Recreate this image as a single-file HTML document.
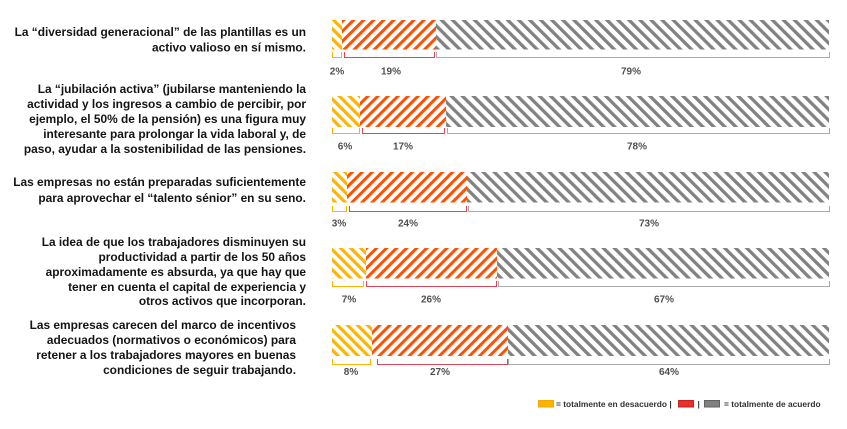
<!DOCTYPE html>
<html>
<head>
<meta charset="utf-8">
<style>
  html, body { margin: 0; padding: 0; background: #ffffff; }
  body { width: 847px; height: 429px; overflow: hidden; }
  svg { display: block; }
  .q { font-family: "Liberation Sans", Arial, sans-serif; font-weight: bold; font-size: 11.9px; fill: #141414; }
  .p { font-family: "Liberation Sans", Arial, sans-serif; font-weight: bold; font-size: 10px; fill: #505050; }
  .lg { font-family: "Liberation Sans", Arial, sans-serif; font-weight: bold; font-size: 8.4px; fill: #333333; }
</style>
</head>
<body>
<svg width="847" height="429" viewBox="0 0 847 429" xmlns="http://www.w3.org/2000/svg">
  <defs>
    <pattern id="hy" patternUnits="userSpaceOnUse" width="7.1" height="7.1" patternTransform="rotate(-45)">
      <rect x="0" y="0" width="7.1" height="7.1" fill="#ffffff"/>
      <rect x="0" y="0" width="3.2" height="7.1" fill="#ffb400"/>
    </pattern>
    <pattern id="ho" patternUnits="userSpaceOnUse" width="7.1" height="7.1" patternTransform="rotate(45)">
      <rect x="0" y="0" width="7.1" height="7.1" fill="#ffffff"/>
      <rect x="0" y="0" width="3.0" height="7.1" fill="#ff4f00"/>
    </pattern>
    <pattern id="hg" patternUnits="userSpaceOnUse" width="7.8" height="7.8" patternTransform="rotate(-45)">
      <rect x="0" y="0" width="7.8" height="7.8" fill="#ffffff"/>
      <rect x="0" y="0" width="3.3" height="7.8" fill="#828282"/>
    </pattern>
  </defs>

  <!-- Left question texts -->
  <g class="q" text-anchor="end">
    <text x="306" y="36">La “diversidad generacional” de las plantillas es un</text>
    <text x="306" y="51.5">activo valioso en sí mismo.</text>

    <text x="306" y="93">La “jubilación activa” (jubilarse manteniendo la</text>
    <text x="306" y="108">actividad y los ingresos a cambio de percibir, por</text>
    <text x="306" y="123">ejemplo, el 50% de la pensión) es una figura muy</text>
    <text x="306" y="138">interesante para prolongar la vida laboral y, de</text>
    <text x="306" y="153">paso, ayudar a la sostenibilidad de las pensiones.</text>

    <text x="306" y="186">Las empresas no están preparadas suficientemente</text>
    <text x="306" y="202">para aprovechar el “talento sénior” en su seno.</text>

    <text x="306" y="246">La idea de que los trabajadores disminuyen su</text>
    <text x="306" y="261">productividad a partir de los 50 años</text>
    <text x="306" y="276">aproximadamente es absurda, ya que hay que</text>
    <text x="306" y="291">tener en cuenta el capital de experiencia y</text>
    <text x="306" y="305">otros activos que incorporan.</text>

    <text x="296" y="329">Las empresas carecen del marco de incentivos</text>
    <text x="296" y="344">adecuados (normativos o económicos) para</text>
    <text x="296" y="359">retener a los trabajadores mayores en buenas</text>
    <text x="296" y="374">condiciones de seguir trabajando.</text>
  </g>

  <!-- Bar 1 -->
  <rect x="332" y="20" width="10" height="29.5" fill="url(#hy)"/>
  <rect x="342" y="20" width="94" height="29.5" fill="url(#ho)"/>
  <rect x="436" y="20" width="393" height="29.5" fill="url(#hg)"/>
  <path d="M332.5 52 V57.5 H341.5 V52" fill="none" stroke="#ffb400" stroke-width="1"/>
  <path d="M344.5 52 V57.5 H434.5 V52" fill="none" stroke="#d8465a" stroke-width="1"/>
  <path d="M436.5 52 V57.5 H829.5 V52" fill="none" stroke="#aaaaaa" stroke-width="1"/>
  <g class="p" text-anchor="middle">
    <text x="337" y="74.5">2%</text>
    <text x="391" y="74.5">19%</text>
    <text x="631" y="74.5">79%</text>
  </g>

  <!-- Bar 2 -->
  <rect x="332" y="96" width="28" height="31" fill="url(#hy)"/>
  <rect x="360" y="96" width="86" height="31" fill="url(#ho)"/>
  <rect x="446" y="96" width="383" height="31" fill="url(#hg)"/>
  <path d="M332.5 128 V133.5 H359.5 V128" fill="none" stroke="#ffb400" stroke-width="1"/>
  <path d="M362.5 128 V133.5 H444.5 V128" fill="none" stroke="#d8465a" stroke-width="1"/>
  <path d="M447.5 128 V133.5 H829.5 V128" fill="none" stroke="#aaaaaa" stroke-width="1"/>
  <g class="p" text-anchor="middle">
    <text x="345" y="149.5">6%</text>
    <text x="403" y="149.5">17%</text>
    <text x="637" y="149.5">78%</text>
  </g>

  <!-- Bar 3 -->
  <rect x="332" y="172" width="15" height="30.5" fill="url(#hy)"/>
  <rect x="347" y="172" width="120" height="30.5" fill="url(#ho)"/>
  <rect x="467" y="172" width="362" height="30.5" fill="url(#hg)"/>
  <path d="M332.5 206 V211.5 H346.5 V206" fill="none" stroke="#ffb400" stroke-width="1"/>
  <path d="M349.5 206 V211.5 H466.5 V206" fill="none" stroke="#d8465a" stroke-width="1"/>
  <path d="M468.5 206 V211.5 H829.5 V206" fill="none" stroke="#aaaaaa" stroke-width="1"/>
  <g class="p" text-anchor="middle">
    <text x="339" y="226.5">3%</text>
    <text x="408" y="226.5">24%</text>
    <text x="649" y="226.5">73%</text>
  </g>

  <!-- Bar 4 -->
  <rect x="332" y="248" width="34" height="30.5" fill="url(#hy)"/>
  <rect x="366" y="248" width="131" height="30.5" fill="url(#ho)"/>
  <rect x="497" y="248" width="332" height="30.5" fill="url(#hg)"/>
  <path d="M332.5 281 V286.5 H363.5 V281" fill="none" stroke="#ffb400" stroke-width="1"/>
  <path d="M366.5 281 V286.5 H496.5 V281" fill="none" stroke="#d8465a" stroke-width="1"/>
  <path d="M498.5 281 V286.5 H829.5 V281" fill="none" stroke="#aaaaaa" stroke-width="1"/>
  <g class="p" text-anchor="middle">
    <text x="349" y="302.5">7%</text>
    <text x="431" y="302.5">26%</text>
    <text x="664" y="302.5">67%</text>
  </g>

  <!-- Bar 5 -->
  <rect x="332" y="325" width="40" height="31" fill="url(#hy)"/>
  <rect x="372" y="325" width="136" height="31" fill="url(#ho)"/>
  <rect x="508" y="325" width="321" height="31" fill="url(#hg)"/>
  <path d="M332.5 359 V364.5 H370.5 V359" fill="none" stroke="#ffb400" stroke-width="1"/>
  <path d="M377.5 359 V364.5 H507.5 V359" fill="none" stroke="#d8465a" stroke-width="1"/>
  <path d="M508.5 359 V364.5 H829.5 V359" fill="none" stroke="#aaaaaa" stroke-width="1"/>
  <g class="p" text-anchor="middle">
    <text x="351" y="375">8%</text>
    <text x="440" y="375">27%</text>
    <text x="669" y="375">64%</text>
  </g>

  <!-- Legend -->
  <rect x="538.5" y="400.5" width="15" height="6.5" fill="#ffb400" stroke="#f0a800" stroke-width="1"/>
  <text class="lg" x="556" y="407">= totalmente en desacuerdo |</text>
  <rect x="678.5" y="400.5" width="15" height="6.5" fill="#e8302a" stroke="#c82020" stroke-width="1"/>
  <text class="lg" x="697.5" y="407">|</text>
  <rect x="704.5" y="400.5" width="15" height="6.5" fill="#808080" stroke="#606060" stroke-width="1"/>
  <text class="lg" x="724" y="407">= totalmente de acuerdo</text>
</svg>
</body>
</html>
